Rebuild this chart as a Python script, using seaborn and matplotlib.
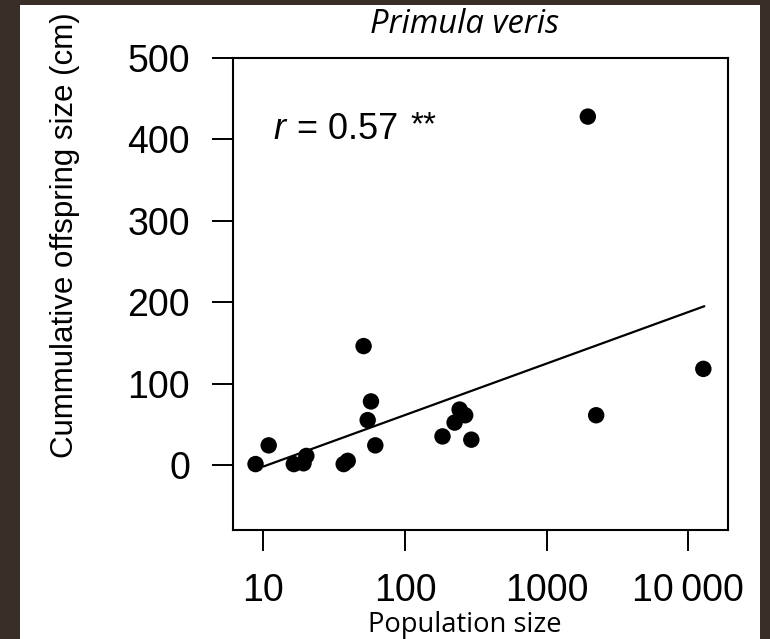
import matplotlib
matplotlib.use("Agg")
import matplotlib.pyplot as plt
from matplotlib.patches import Rectangle
from matplotlib.ticker import FixedLocator, NullLocator
import seaborn as sns
import pandas as pd

# ---- data ----
pop_size = [8.8, 10.9, 16.4, 19.2, 20.1, 36.9, 39.4, 51.0, 54.5, 57.5, 61.7,
            184, 224, 243, 266, 294, 1955, 2239, 12790]
offspring = [1, 24, 1, 2, 11, 1, 5, 146, 55, 78, 24,
             35, 52, 68, 61, 31, 428, 61, 118]
fit_x = [10, 13000]
fit_y = [-2, 195]
x_ticks = [10, 100, 1000, 10000]
x_ticklabels = ["10", "100", "1000", "10\u2009000"]
y_ticks = [0, 100, 200, 300, 400, 500]

sns.set_style("ticks")
plt.rcParams["font.family"] = ["Liberation Sans", "DejaVu Sans"]
plt.rcParams["text.color"] = "black"

W, H = 770, 639
fig = plt.figure(figsize=(W / 100, H / 100), dpi=100, facecolor="#3a2e28")
fig.patches.append(Rectangle((20 / W, 0), (760 - 20) / W, (639 - 5) / H,
                             transform=fig.transFigure, facecolor="white",
                             edgecolor="none", zorder=-10))

L, R, T, B = 233, 728, 58, 530
ax = fig.add_axes([L / W, (H - B) / H, (R - L) / W, (B - T) / H])
ax.set_facecolor("white")

df = pd.DataFrame({"pop": pop_size, "off": offspring})
fit = pd.DataFrame({"x": fit_x, "y": fit_y})
sns.lineplot(data=fit, x="x", y="y", ax=ax, color="black", linewidth=1.6)
sns.scatterplot(data=df, x="pop", y="off", ax=ax, color="black", s=140,
                edgecolor="none", zorder=3)

ax.set_xscale("log")
ax.set_xlim(6.1, 19100)
ax.set_ylim(-80, 500)
ax.xaxis.set_major_locator(FixedLocator(x_ticks))
ax.xaxis.set_minor_locator(NullLocator())
ax.set_xticklabels(x_ticklabels)
ax.set_yticks(y_ticks)

for s in ax.spines.values():
    s.set_color("black")
    s.set_linewidth(1.5)

ax.tick_params(axis="y", direction="out", length=15, width=1.4, pad=16,
               labelsize=27, colors="black")
ax.tick_params(axis="x", direction="out", length=15, width=1.4, pad=16,
               labelsize=27, colors="black")

ax.set_ylabel("Cummulative offspring size (cm)", fontsize=22.5, color="black",
              ha="center", va="center")
ax.yaxis.set_label_coords((65 - L) / (R - L), (B - 235) / (B - T))

ax.set_xlabel("Population size", fontsize=19.7, family="Open Sans",
              color="black", va="baseline")
ax.xaxis.set_label_coords((465 - L) / (R - L), (B - 632) / (B - T))

ax.set_title("Primula veris", fontsize=23.6, family="Open Sans", style="italic",
             color="black", x=(465 - L) / (R - L), y=(B - 41) / (B - T),
             va="baseline")

yb = (B - 139) / (B - T)
ax.text((273 - L) / (R - L), yb, "r", fontsize=26, style="italic",
        color="black", transform=ax.transAxes, va="baseline", ha="left")
ax.text((296.7 - L) / (R - L), yb, "= 0.57", fontsize=26, color="black",
        transform=ax.transAxes, va="baseline", ha="left")
ax.text((410 - L) / (R - L), (B - 134) / (B - T), "**", fontsize=24,
        color="black", transform=ax.transAxes, va="baseline", ha="left")

fig.savefig("out.png", dpi=100, facecolor=fig.get_facecolor())
